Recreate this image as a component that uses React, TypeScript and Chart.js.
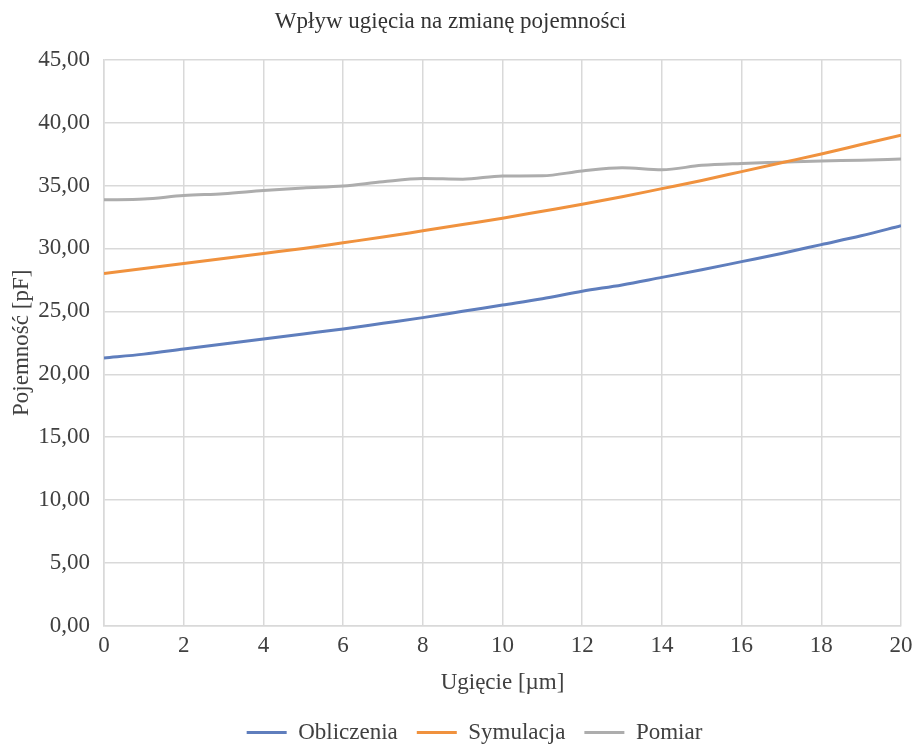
import React, { useEffect, useRef } from "react";
import { Chart, registerables } from "chart.js";

Chart.register(...registerables);

const xValues = [0, 1, 2, 3, 4, 5, 6, 7, 8, 9, 10, 11, 12, 13, 14, 15, 16, 17, 18, 19, 20];
const obliczenia = [21.3, 21.6, 22.0, 22.4, 22.8, 23.2, 23.6, 24.05, 24.5, 25.0, 25.5, 26.0, 26.6, 27.1, 27.7, 28.3, 28.95, 29.6, 30.3, 31.0, 31.8];
const symulacja = [28.0, 28.4, 28.8, 29.2, 29.6, 30.0, 30.45, 30.9, 31.4, 31.9, 32.4, 32.95, 33.5, 34.1, 34.75, 35.4, 36.1, 36.8, 37.5, 38.25, 39.0];
const pomiar = [33.86, 33.92, 34.2, 34.35, 34.6, 34.8, 34.95, 35.3, 35.55, 35.5, 35.75, 35.77, 36.15, 36.4, 36.25, 36.6, 36.75, 36.85, 36.95, 37.0, 37.1];

const seriesNames = ["Obliczenia", "Symulacja", "Pomiar"];
const titleText = "Wpływ ugięcia na zmianę pojemności";
const xTitle = "Ugięcie [µm]";
const yTitle = "Pojemność [pF]";

const FONT = "'Liberation Serif', 'Times New Roman', serif";
const TEXT = "#404040";
const FS = 23;

const legendShift = {
  id: "legendShift",
  afterLayout(chart: any) {
    const l = chart.legend;
    if (l) {
      l.left += 24;
      l.right += 24;
    }
  },
};

export default function App() {
  const ref = useRef<HTMLCanvasElement | null>(null);
  useEffect(() => {
    if (!ref.current) return;
    const mk = (arr: number[]) => xValues.map((x, i) => ({ x, y: arr[i] }));
    const chart = new Chart(ref.current, {
      type: "line",
      data: {
        datasets: [
          { label: seriesNames[0], data: mk(obliczenia), borderColor: "#5F7EBD", backgroundColor: "#5F7EBD", borderWidth: 3, pointRadius: 0, cubicInterpolationMode: "monotone" },
          { label: seriesNames[1], data: mk(symulacja), borderColor: "#F0923E", backgroundColor: "#F0923E", borderWidth: 3, pointRadius: 0, cubicInterpolationMode: "monotone" },
          { label: seriesNames[2], data: mk(pomiar), borderColor: "#ADADAD", backgroundColor: "#ADADAD", borderWidth: 3, pointRadius: 0, cubicInterpolationMode: "monotone" },
        ],
      },
      plugins: [legendShift],
      options: {
        animation: false,
        responsive: false,
        maintainAspectRatio: false,
        layout: { padding: { left: 0, right: 13, top: 0, bottom: -9 } },
        plugins: {
          title: {
            display: true,
            text: titleText,
            color: "#333333",
            font: { family: FONT, size: FS, weight: "normal" },
            padding: { top: 8, bottom: 24 },
          },
          legend: {
            position: "bottom",
            labels: {
              usePointStyle: true,
              pointStyle: "line",
              pointStyleWidth: 40,
              padding: 19,
              color: TEXT,
              font: { family: FONT, size: FS },
            },
          },
          tooltip: { enabled: false },
        },
        scales: {
          x: {
            type: "linear",
            min: 0,
            max: 20,
            ticks: { stepSize: 2, color: TEXT, font: { family: FONT, size: FS }, padding: 6 },
            grid: { color: "#D9D9D9", lineWidth: 1.5, drawTicks: false },
            border: { color: "#D9D9D9", width: 1.5 },
            title: { display: true, text: xTitle, color: TEXT, font: { family: FONT, size: FS }, padding: { top: 4, bottom: 5 } },
            afterFit: (s: any) => { s.height = 76; s.paddingRight = 0; s.paddingLeft = 0; },
          },
          y: {
            min: 0,
            max: 45,
            ticks: {
              stepSize: 5,
              color: TEXT,
              font: { family: FONT, size: FS },
              padding: 14,
              callback: (v: any) => Number(v).toFixed(2).replace(".", ","),
            },
            grid: { color: "#D9D9D9", lineWidth: 1.5, drawTicks: false },
            border: { color: "#D9D9D9", width: 1.5 },
            title: { display: true, text: yTitle, color: TEXT, font: { family: FONT, size: FS }, padding: { top: 8, bottom: 4 } },
            afterFit: (s: any) => { s.width = 104; },
          },
        },
      },
    });
    return () => chart.destroy();
  }, []);
  return (
    <div style={{ position: "fixed", left: 0, top: 0, width: 914, height: 745, background: "#fff" }}>
      <canvas ref={ref} width={914} height={745} style={{ display: "block" }} />
    </div>
  );
}
